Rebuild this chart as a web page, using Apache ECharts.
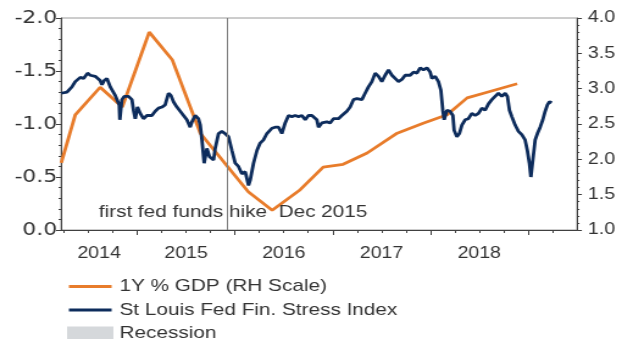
<!DOCTYPE html>
<html>
<head>
<meta charset="utf-8">
<script src="https://cdn.jsdelivr.net/npm/echarts@6/dist/echarts.min.js"></script>
<style>
  html, body { margin: 0; padding: 0; background: #fff; overflow: hidden; }
  /* the chart is laid out narrow and widened, giving the broad lettering of the original */
  #chart { width: 510px; height: 339px; transform: scaleX(1.2196); transform-origin: 0 0; }
</style>
</head>
<body>
<div id="chart"></div>
<script>
// St Louis Fed Financial Stress Index, weekly, [decimal year, index] (left axis, inverted)
const stressIndex = [
  [2014.223,-1.29],[2014.281,-1.30],[2014.332,-1.35],[2014.366,-1.40],[2014.417,-1.44],[2014.451,-1.43],
  [2014.492,-1.48],[2014.519,-1.46],[2014.570,-1.45],[2014.621,-1.41],[2014.639,-1.37],[2014.662,-1.41],
  [2014.690,-1.43],[2014.724,-1.35],[2014.775,-1.27],[2014.816,-1.18],[2014.822,-1.04],[2014.843,-1.23],
  [2014.867,-1.26],[2014.911,-1.26],[2014.946,-1.23],[2014.962,-1.13],[2014.980,-1.05],[2015.003,-1.16],
  [2015.031,-1.10],[2015.064,-1.05],[2015.099,-1.08],[2015.150,-1.08],[2015.184,-1.12],[2015.218,-1.15],
  [2015.253,-1.16],[2015.286,-1.18],[2015.320,-1.29],[2015.345,-1.27],[2015.371,-1.21],[2015.406,-1.16],
  [2015.440,-1.12],[2015.474,-1.08],[2015.508,-1.04],[2015.542,-0.97],[2015.560,-1.02],[2015.593,-1.08],
  [2015.627,-1.05],[2015.645,-0.99],[2015.662,-0.85],[2015.685,-0.63],[2015.713,-0.77],[2015.740,-0.69],
  [2015.781,-0.66],[2015.798,-0.77],[2015.832,-0.91],[2015.866,-0.93],[2015.900,-0.91],[2015.934,-0.88],
  [2015.969,-0.75],[2016.003,-0.63],[2016.036,-0.60],[2016.071,-0.53],[2016.105,-0.55],[2016.139,-0.42],
  [2016.156,-0.47],[2016.190,-0.63],[2016.225,-0.75],[2016.258,-0.82],[2016.292,-0.85],[2016.327,-0.91],
  [2016.378,-0.96],[2016.412,-0.97],[2016.446,-0.97],[2016.480,-0.91],[2016.514,-1.01],[2016.548,-1.08],
  [2016.583,-1.07],[2016.616,-1.08],[2016.650,-1.07],[2016.685,-1.08],[2016.719,-1.04],[2016.752,-1.08],
  [2016.787,-1.08],[2016.838,-1.04],[2016.855,-0.97],[2016.889,-1.01],[2016.941,-1.02],[2016.974,-1.01],
  [2017.008,-1.05],[2017.059,-1.05],[2017.094,-1.08],[2017.145,-1.12],[2017.179,-1.16],[2017.213,-1.23],
  [2017.248,-1.24],[2017.299,-1.23],[2017.332,-1.29],[2017.366,-1.35],[2017.401,-1.40],[2017.435,-1.48],
  [2017.469,-1.45],[2017.503,-1.40],[2017.537,-1.46],[2017.571,-1.51],[2017.606,-1.46],[2017.639,-1.43],
  [2017.673,-1.40],[2017.708,-1.42],[2017.742,-1.46],[2017.793,-1.46],[2017.827,-1.49],[2017.862,-1.48],
  [2017.895,-1.53],[2017.929,-1.51],[2017.964,-1.53],[2017.997,-1.49],[2018.015,-1.43],[2018.049,-1.45],
  [2018.082,-1.40],[2018.107,-1.32],[2018.127,-1.13],[2018.141,-1.04],[2018.168,-1.13],[2018.202,-1.12],
  [2018.230,-1.08],[2018.243,-0.94],[2018.271,-0.88],[2018.297,-0.91],[2018.322,-0.99],[2018.355,-1.04],
  [2018.389,-1.05],[2018.424,-1.10],[2018.458,-1.08],[2018.492,-1.10],[2018.527,-1.15],[2018.560,-1.13],
  [2018.594,-1.19],[2018.629,-1.23],[2018.662,-1.26],[2018.696,-1.29],[2018.731,-1.26],[2018.765,-1.29],
  [2018.788,-1.26],[2018.809,-1.13],[2018.833,-1.07],[2018.867,-0.99],[2018.901,-0.93],[2018.935,-0.90],
  [2018.969,-0.85],[2018.992,-0.75],[2019.013,-0.63],[2019.028,-0.50],[2019.048,-0.66],[2019.072,-0.85],
  [2019.095,-0.91],[2019.123,-0.97],[2019.150,-1.04],[2019.174,-1.12],[2019.197,-1.18],[2019.218,-1.21],
  [2019.242,-1.20]
];

// 1Y % GDP, quarterly, [decimal year, value] (right axis)
const gdpOneYear = [
  [2014.223,1.95],[2014.366,2.63],[2014.621,3.02],[2014.847,2.74],[2015.123,3.80],[2015.358,3.41],
  [2015.645,2.37],[2016.136,1.54],[2016.381,1.28],[2016.668,1.57],[2016.903,1.89],[2017.107,1.93],
  [2017.353,2.09],[2017.660,2.37],[2017.926,2.51],[2018.171,2.63],[2018.376,2.87],[2018.581,2.95],
  [2018.888,3.07]
];

const seriesNames = ['1Y % GDP (RH Scale)', 'St Louis Fed Fin. Stress Index', 'Recession'];
const years = [2014, 2015, 2016, 2017, 2018];
const firstHike = 2015.92;           // December 2015
const hikeNote = 'first fed funds hike  Dec 2015';

const X_MIN = 2014.22, X_MAX = 2019.5;
// year names sit in the middle of the visible part of each year
const yearLabelAt = years.map(y => (Math.max(y, X_MIN) + Math.min(y + 1, X_MAX)) / 2);
const yearTicks = [2015, 2016, 2017, 2018, 2019];
const quarterTicks = [];
for (let q = 2014.25; q < X_MAX; q += 0.25) quarterTicks.push(+q.toFixed(2));

const FONT = "'Liberation Sans', Arial, sans-serif";
const WIDE_FONT = "'DejaVu Sans', sans-serif";
const INK = '#333333';
const AXIS = '#404040';
const ORANGE = '#E87C2B';
const NAVY = '#0D2C5C';
// legend swatch for the lines: a thin bar in the middle of the icon box
const LINE_SWATCH = 'path://M0,0h0.01v0.01h-0.01z M0,6.3h40v3.4h-40z M0,15.99h0.01v0.01h-0.01z';

const chart = echarts.init(document.getElementById('chart'), null, { renderer: 'canvas' });

chart.setOption({
  animation: false,
  backgroundColor: '#ffffff',
  textStyle: { fontFamily: FONT, color: INK },
  grid: {
    left: 50, right: 36.9, top: 18, bottom: 109,
    show: true, borderColor: '#9a9a9a', borderWidth: 1,
    outerBoundsMode: 'none'
  },
  legend: {
    orient: 'vertical', left: 55, top: 278, height: 80, padding: 0,
    itemWidth: 38, itemHeight: 14, itemGap: 6.5,
    selectedMode: false,
    textStyle: { fontSize: 17, color: INK, lineHeight: 17, fontFamily: FONT },
    data: [
      { name: seriesNames[0], icon: LINE_SWATCH },
      { name: seriesNames[1], icon: LINE_SWATCH },
      { name: seriesNames[2], icon: 'rect' }
    ]
  },
  xAxis: [
    {
      type: 'value', min: X_MIN, max: X_MAX, position: 'bottom',
      axisLine: { show: true, lineStyle: { color: AXIS, width: 1 } },
      axisTick: { show: true, customValues: yearTicks, length: 5, lineStyle: { color: AXIS } },
      axisLabel: {
        customValues: yearLabelAt,
        formatter: v => String(Math.floor(v)),
        margin: 16, fontSize: 16, color: INK, fontFamily: FONT
      },
      splitLine: { show: false }
    },
    {
      type: 'value', min: X_MIN, max: X_MAX, position: 'bottom',
      axisLine: { show: false },
      axisTick: { show: true, customValues: quarterTicks, length: 3, lineStyle: { color: AXIS } },
      axisLabel: { show: false },
      splitLine: { show: false }
    }
  ],
  yAxis: [
    {
      type: 'value', inverse: true, min: -2, max: 0, interval: 0.5, position: 'left',
      axisLine: { show: true, lineStyle: { color: AXIS } },
      axisTick: { show: true, length: 4, lineStyle: { color: AXIS } },
      minorTick: { show: true, splitNumber: 5, length: 2, lineStyle: { color: AXIS } },
      axisLabel: { formatter: v => v.toFixed(1), fontSize: 18, color: INK, margin: 3, fontFamily: WIDE_FONT },
      splitLine: { show: false }
    },
    {
      type: 'value', min: 1, max: 4, interval: 0.5, position: 'right',
      axisLine: { show: true, lineStyle: { color: AXIS } },
      axisTick: { show: true, length: 4, lineStyle: { color: AXIS } },
      minorTick: { show: true, splitNumber: 5, length: 2, lineStyle: { color: AXIS } },
      axisLabel: { formatter: v => v.toFixed(1), fontSize: 16, color: INK, margin: 9, fontFamily: FONT },
      splitLine: { show: false }
    }
  ],
  series: [
    {
      name: seriesNames[0], type: 'line', xAxisIndex: 0, yAxisIndex: 1,
      data: gdpOneYear, symbol: 'none', z: 2,
      lineStyle: { color: ORANGE, width: 2.8 }, itemStyle: { color: ORANGE },
      markLine: {
        silent: true, symbol: 'none', label: { show: false },
        lineStyle: { color: '#7f7f7f', width: 1, type: 'solid' },
        data: [{ xAxis: firstHike }]
      }
    },
    {
      name: seriesNames[1], type: 'line', xAxisIndex: 0, yAxisIndex: 0,
      data: stressIndex, symbol: 'none', z: 3,
      lineStyle: { color: NAVY, width: 2.8 }, itemStyle: { color: NAVY }
    },
    {
      name: seriesNames[2], type: 'bar', xAxisIndex: 0, yAxisIndex: 0,
      data: [], itemStyle: { color: '#D5D8DB' }
    }
  ],
  graphic: [
    {
      type: 'text', x: 81, y: 212, z: 10,
      style: { text: hikeNote, fontSize: 17, fill: INK, verticalAlign: 'middle', fontFamily: FONT }
    }
  ]
});
</script>
</body>
</html>
